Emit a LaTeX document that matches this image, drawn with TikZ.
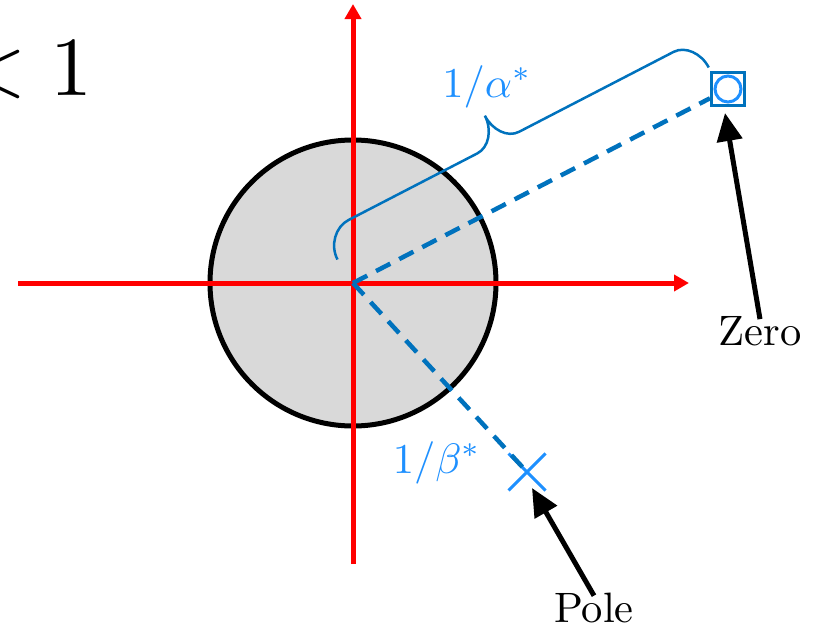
\documentclass[tikz,border=0pt]{standalone}
\usetikzlibrary{arrows.meta,shapes.misc}
\definecolor{axisred}{RGB}{255,0,0}
\definecolor{dashblue}{RGB}{0,114,189}
\definecolor{markblue}{RGB}{30,144,255}
\definecolor{diskgray}{RGB}{217,217,217}
\tikzset{
  axisline/.style={axisred, line width=5pt, -{Triangle[length=15pt,width=16pt]}},
  rayline/.style={dashblue, line width=4.5pt, dash pattern=on 16pt off 10pt},
  bracestyle/.style={dashblue, line width=2.5pt},
  blab/.style={markblue, scale=4.25, transform shape, anchor=base, inner sep=0pt},
  tlab/.style={black, scale=4.25, transform shape, anchor=base, inner sep=0pt},
  pointer/.style={black, line width=5pt, -{Triangle[length=28pt,width=25pt]}},
}
\begin{document}
\begin{tikzpicture}[x=1pt,y=-1pt]
\useasboundingbox (0,0) rectangle (817,629);
\coordinate (O) at (353,283);
% disk
\node[circle, draw=black, line width=5pt, fill=diskgray, minimum size=286pt, inner sep=0pt] (disk) at (O) {};
% axes
\coordinate (xl) at (18,283);
\coordinate (xr) at (689,283);
\coordinate (yb) at (353,564);
\coordinate (yt) at (353,4);
\draw[axisline] (xl) -- (xr);
\draw[axisline] (yb) -- (yt);
% markers
\node[draw=dashblue, line width=3pt, minimum size=33pt, inner sep=0pt] (zero) at (728,89) {};
\node[draw=markblue, circle, line width=3pt, minimum size=26pt, inner sep=0pt] (zeroc) at (728,89) {};
\node[cross out, draw=markblue, line width=3pt, minimum size=34pt, inner sep=0pt] (pole) at (527,472) {};
% rays
\draw[rayline] (O) -- (zero);
\draw[rayline] (O) -- (pole.center);
% brace
\begin{scope}[shift={(O)}, rotate=27.35, y=1pt]
\draw[bracestyle] (-3,28) .. controls (-3,44) and (10,58) .. (25,58)
  -- (170,58) .. controls (183,58) and (194,72) .. (194,88)
  .. controls (194,72) and (204,58) .. (217,58)
  -- (391,58) .. controls (404,58) and (415,44) .. (415,28);
\end{scope}
% labels
\node[blab] (alab) at (487,97) {$1/\alpha^*$};
\node[blab] (blab) at (437,473) {$1/\beta^*$};
\node[tlab] (zlab) at (760,345) {Zero};
\node[tlab] (plab) at (594,622) {Pole};
\node[anchor=base east, inner sep=0pt, scale=8.4, transform shape] (cond) at (94,95) {$<1$};
% pointers
\coordinate (ztip) at (725,113);
\coordinate (ptip) at (532,488);
\draw[pointer] ([yshift=-4pt]zlab.north) -- (ztip);
\draw[pointer] ([yshift=-4pt]plab.north) -- (ptip);
\end{tikzpicture}
\end{document}
